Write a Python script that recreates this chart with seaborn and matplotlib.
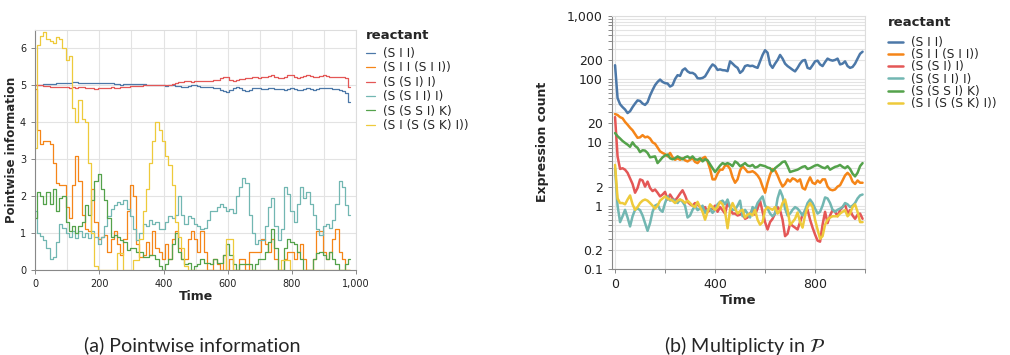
import seaborn as sns
import matplotlib
matplotlib.use('Agg')
import matplotlib.pyplot as plt
from matplotlib.ticker import FixedLocator, NullFormatter
import pandas as pd

reactants = ['(S I I)', '(S I I (S I I))', '(S (S I) I)', '(S (S I I) I)', '(S (S S I) K)', '(S I (S (S K) I))']
colors = ['#4c78a8', '#f58518', '#e45756', '#72b7b2', '#54a24b', '#eeca3b']

# (a) pointwise information, sampled every 10 time steps (0..980)
time_a = list(range(0, 990, 10))
info_sii = [5.0, 5.01, 5.02, 5.03, 5.04, 5.05, 5.05, 5.06, 5.06, 5.07,
            5.07, 5.07, 5.08, 5.08, 5.07, 5.06, 5.06, 5.07, 5.07, 5.07,
            5.07, 5.07, 5.06, 5.06, 5.06, 5.05, 5.04, 5.02, 5.03, 5.05,
            5.04, 5.03, 5.04, 5.04, 5.03, 5.02, 5.02, 5.01, 5.0, 5.0,
            5.0, 4.99, 5.0, 5.0, 4.99, 4.98, 4.97, 4.97, 4.98, 5.0,
            5.0, 4.98, 4.96, 4.96, 4.96, 4.95, 4.94, 4.92, 4.88, 4.84,
            4.83, 4.88, 4.93, 4.96, 4.93, 4.88, 4.86, 4.88, 4.92, 4.93,
            4.93, 4.91, 4.9, 4.93, 4.92, 4.9, 4.89, 4.9, 4.88, 4.9,
            4.92, 4.9, 4.88, 4.87, 4.9, 4.92, 4.9, 4.88, 4.9, 4.92,
            4.93, 4.94, 4.92, 4.9, 4.9, 4.88, 4.85, 4.8, 4.55]
info_sii_sii = [4.9, 3.8, 3.4, 3.5, 3.5, 3.4, 2.9, 2.35, 2.3, 2.3,
                1.7, 1.4, 2.3, 3.1, 2.4, 1.5, 1.1, 1.05, 2.2, 1.3,
                0.85, 0.9, 0.95, 0.5, 0.85, 1.05, 0.7, 0.4, 0.85, 1.6,
                2.3, 2.0, 0.7, 0.35, 0.4, 0.75, 0.4, 1.05, 0.6, 0.5,
                0.3, 0.7, 0.3, 0.85, 1.05, 0.6, 0.3, 0.3, 0.85, 1.05,
                0.85, 0.5, 1.05, 0.5, 0, 0, 0.3, 0.15, 0, 0.4,
                0, 0.3, 0, 0, 0.3, 0.3, 0, 0.5, 0.5, 0.5,
                0.5, 0.85, 0.7, 0.5, 0.85, 0.3, 0, 0, 0.3, 0.5,
                0.5, 0.3, 0.5, 0.7, 0.3, 0, 0, 0.3, 1.05, 1.05,
                0.5, 0.3, 0.5, 0.85, 1.1, 0.5, 0.3, 0, 0]
info_ssii = [5.0, 5.0, 5.0, 4.99, 4.98, 4.97, 4.97, 4.96, 4.95, 4.96,
             4.95, 4.94, 4.95, 4.93, 4.95, 4.96, 4.94, 4.93, 4.92, 4.91,
             4.92, 4.93, 4.92, 4.94, 4.95, 4.93, 4.94, 4.95, 4.96, 4.97,
             4.98, 4.99, 4.99, 4.99, 5.0, 5.0, 5.01, 5.01, 5.01, 5.0,
             5.0, 5.02, 5.01, 5.03, 5.06, 5.09, 5.1, 5.12, 5.12, 5.1,
             5.12, 5.12, 5.12, 5.13, 5.12, 5.13, 5.14, 5.16, 5.2, 5.24,
             5.22, 5.16, 5.13, 5.15, 5.18, 5.17, 5.19, 5.2, 5.22, 5.22,
             5.2, 5.22, 5.23, 5.25, 5.27, 5.24, 5.19, 5.2, 5.24, 5.28,
             5.27, 5.22, 5.2, 5.22, 5.25, 5.27, 5.25, 5.22, 5.24, 5.25,
             5.27, 5.26, 5.24, 5.23, 5.24, 5.24, 5.22, 5.2, 4.95]
info_s_sii_i = [1.6, 1.0, 0.92, 0.8, 0.6, 0.3, 0.35, 0.77, 1.25, 1.15,
                1.0, 0.9, 1.05, 0.86, 1.05, 0.9, 1.0, 0.86, 1.05, 0.9,
                0.7, 0.9, 1.2, 1.45, 1.65, 1.76, 1.85, 1.8, 1.9, 1.65,
                1.45, 1.1, 0.8, 1.0, 1.25, 1.2, 1.35, 1.25, 1.3, 1.1,
                1.1, 1.3, 1.45, 1.4, 1.5, 2.0, 1.5, 1.25, 1.45, 1.4,
                1.25, 1.2, 1.1, 1.15, 1.35, 1.6, 1.6, 1.7, 1.8, 1.7,
                1.6, 1.65, 1.55, 2.0, 2.25, 2.5, 2.35, 1.5, 1.0, 0.7,
                0.8, 0.8, 1.2, 1.7, 1.95, 1.2, 0.8, 1.1, 2.25, 2.05,
                1.6, 1.3, 1.8, 2.25, 1.95, 2.1, 1.8, 1.5, 1.1, 0.95,
                1.2, 1.25, 1.15, 1.35, 1.8, 2.4, 2.25, 1.75, 1.5]
info_sssik = [1.4, 2.1, 2.0, 1.8, 2.1, 1.8, 2.2, 1.6, 1.95, 2.0,
              1.3, 1.05, 1.2, 1.0, 1.2, 1.3, 1.75, 1.5, 1.9, 2.4,
              2.6, 2.2, 1.9, 1.4, 0.9, 0.95, 0.9, 0.8, 0.75, 0.55,
              0.6, 0.6, 0.5, 0.5, 0.35, 0.35, 0.4, 0.4, 0.3, 0.1,
              0, 0.15, 0.3, 0.7, 1.0, 0.5, 0.3, 0.15, 0.2, 0,
              0.1, 0.15, 0.3, 0.2, 0.2, 0.15, 0.3, 0.2, 0.2, 0.4,
              0.7, 0.4, 0.15, 0, 0.15, 0.15, 0.15, 0.15, 0, 0.15,
              0.3, 0.3, 0.5, 0.75, 1.1, 0.6, 0, 0, 0.6, 0.85,
              0.75, 0.7, 0.5, 0.3, 0, 0, 0, 0.3, 0.45, 0.5,
              0.4, 0.3, 0.5, 0.3, 0.15, 0, 0, 0.15, 0.3]
info_si_sski = [3.3, 6.1, 6.35, 6.45, 6.25, 6.2, 6.15, 6.3, 6.25, 6.0,
                5.7, 5.8, 4.4, 4.0, 4.6, 4.1, 4.0, 2.9, 1.0, 0.1,
                0, 0, 0, 0, 0, 0, 0.45, 0.45, 0, 0,
                0, 0.27, 0.27, 0.85, 1.6, 2.2, 2.9, 3.5, 4.0, 3.8,
                3.5, 3.1, 2.85, 2.3, 1.3, 0.9, 0.6, 0.1, 0, 0,
                0, 0, 0, 0, 0, 0, 0, 0, 0, 0,
                0.83, 0.83, 0, 0, 0, 0, 0, 0, 0, 0,
                0, 0, 0, 0, 0, 0, 0, 0.27, 0.27, 0.27,
                0, 0, 0, 0, 0, 0, 0, 0, 0, 0,
                0, 0, 0, 0, 0, 0, 0, 0, 0]

# (b) multiplicity, sampled every 10 time steps (0..990)
time_b = list(range(0, 1000, 10))
count_sii = [165, 50, 40, 36, 33, 29, 31, 36, 41, 46,
             45, 41, 39, 43, 55, 67, 80, 90, 98, 90,
             86, 85, 76, 80, 100, 115, 112, 138, 147, 132,
             125, 125, 118, 103, 102, 104, 110, 128, 150, 170,
             160, 139, 142, 138, 137, 133, 190, 175, 160, 150,
             125, 135, 160, 165, 160, 162, 155, 150, 190, 240,
             285, 260, 170, 150, 175, 200, 240, 210, 175, 160,
             150, 140, 132, 150, 175, 195, 200, 150, 145, 165,
             190, 195, 170, 160, 185, 210, 200, 195, 200, 210,
             170, 175, 190, 160, 150, 155, 175, 210, 250, 270]
count_sii_sii = [28, 27, 25, 24, 21, 19, 17, 15.5, 13.5, 11.8,
                 12, 13, 12, 12.3, 11.5, 10, 9.5, 8.3, 7.2, 6.8,
                 6.5, 6.0, 6.8, 5.8, 5.3, 5.6, 5.3, 5.6, 5.2, 5.0,
                 5.3, 5.6, 4.9, 4.7, 5.2, 5.6, 5.9, 5.0, 3.8, 2.6,
                 2.6, 3.2, 3.7, 3.7, 4.3, 4.3, 3.8, 2.8, 2.3, 2.6,
                 3.6, 4.2, 3.8, 3.4, 3.4, 3.5, 3.3, 3.0, 2.6, 2.0,
                 1.6, 2.3, 3.1, 3.8, 3.6, 3.0, 2.4, 2.0, 2.2, 2.6,
                 2.4, 2.7, 2.6, 2.4, 2.6, 1.9, 1.8, 2.3, 2.8, 2.3,
                 2.2, 2.5, 2.3, 2.6, 2.6, 2.0, 1.8, 1.75, 1.8, 2.0,
                 2.1, 2.5, 3.0, 3.3, 3.0, 2.4, 2.2, 2.5, 2.3, 2.3]
count_ssii = [25, 6.0, 3.8, 3.9, 3.7, 3.3, 2.7, 2.2, 1.6, 1.9,
              2.6, 2.5, 2.0, 2.4, 1.9, 1.7, 1.8, 1.6, 1.4, 1.5,
              1.65, 1.25, 1.5, 1.3, 1.2, 1.35, 1.55, 1.75, 1.45, 1.15,
              1.05, 1.0, 1.1, 1.05, 0.95, 0.85, 0.95, 0.8, 0.85, 0.9,
              1.0, 0.8, 0.95, 0.85, 0.75, 1.1, 0.95, 0.75, 0.75, 0.7,
              0.72, 0.77, 0.62, 0.65, 0.75, 0.86, 0.72, 0.9, 1.2, 0.8,
              0.55, 0.42, 0.55, 0.62, 0.75, 0.95, 0.85, 0.6, 0.33, 0.36,
              0.52, 0.48, 0.45, 0.42, 0.55, 0.72, 0.82, 0.86, 0.6, 0.45,
              0.35, 0.28, 0.27, 0.5, 0.8, 0.53, 0.7, 0.85, 0.8, 0.68,
              0.85, 0.95, 1.05, 0.75, 0.85, 0.7, 0.62, 0.72, 0.75, 0.62]
count_s_sii_i = [3.9, 1.0, 0.55, 0.68, 0.86, 0.65, 0.47, 0.68, 0.86, 0.9,
                 0.85, 0.7, 0.53, 0.4, 0.53, 0.8, 1.0, 1.05, 0.86, 0.8,
                 1.1, 1.4, 1.2, 1.25, 1.2, 1.1, 1.25, 1.15, 1.0, 0.65,
                 0.7, 0.86, 1.0, 0.85, 0.9, 1.0, 0.77, 0.86, 0.9, 0.77,
                 0.86, 1.05, 1.15, 1.2, 1.05, 1.25, 0.95, 0.86, 0.86, 1.0,
                 1.2, 0.68, 0.86, 0.75, 0.65, 0.95, 0.86, 1.1, 1.25, 1.4,
                 1.0, 0.9, 0.75, 0.68, 0.75, 1.3, 1.75, 1.4, 0.9, 0.7,
                 0.75, 0.86, 0.95, 0.9, 0.8, 0.7, 0.85, 1.1, 1.25, 1.1,
                 0.9, 0.75, 0.8, 1.0, 1.35, 1.3, 1.1, 0.86, 0.8, 0.86,
                 0.9, 0.95, 1.1, 1.05, 0.95, 1.0, 1.1, 1.3, 1.45, 1.5]
count_sssik = [14, 12.5, 11.5, 10.5, 9.8, 9.2, 8.5, 10, 8.8, 8.2,
               7.0, 7.5, 7.4, 6.8, 5.8, 5.9, 6.0, 4.7, 5.2, 5.8,
               6.2, 6.4, 5.6, 5.4, 5.6, 6.0, 5.7, 5.4, 5.8, 6.0,
               5.6, 6.0, 5.4, 5.3, 5.6, 5.0, 5.4, 5.2, 4.5, 3.9,
               3.4, 3.8, 4.3, 4.7, 4.5, 4.7, 4.5, 4.2, 5.0, 4.7,
               4.2, 4.4, 4.7, 4.3, 4.2, 4.4, 4.0, 4.1, 4.4, 4.3,
               4.2, 4.0, 3.9, 3.5, 3.9, 4.2, 4.5, 4.9, 5.0, 4.2,
               3.4, 3.5, 3.6, 3.7, 3.9, 4.1, 4.2, 3.8, 3.9, 4.1,
               4.3, 4.4, 4.2, 4.0, 3.9, 4.2, 3.7, 3.9, 4.1, 4.2,
               4.4, 4.1, 3.9, 4.2, 3.8, 3.2, 2.9, 3.3, 4.2, 4.7]
count_si_sski = [4.4, 1.3, 1.1, 1.1, 1.05, 1.25, 1.45, 1.05, 0.86, 0.95,
                 1.1, 1.2, 1.25, 1.2, 1.1, 1.0, 0.9, 1.0, 1.2, 1.3,
                 1.4, 1.3, 1.25, 1.2, 1.1, 1.2, 1.25, 1.2, 1.1, 1.2,
                 1.1, 1.0, 0.95, 1.15, 0.95, 0.8, 0.6, 0.8, 1.05, 0.95,
                 0.86, 0.95, 1.15, 1.05, 0.8, 0.44, 0.85, 1.1, 0.9, 0.75,
                 0.82, 0.86, 0.65, 0.72, 0.75, 0.7, 0.86, 0.6, 0.5, 0.55,
                 0.85, 0.95, 0.9, 0.86, 0.95, 0.75, 0.85, 1.1, 1.25, 0.86,
                 0.5, 0.55, 0.62, 0.78, 0.55, 0.45, 0.7, 0.95, 1.1, 0.95,
                 0.6, 0.42, 0.3, 0.33, 0.5, 0.6, 0.65, 0.68, 0.68, 0.68,
                 0.75, 0.8, 0.85, 0.68, 0.75, 0.95, 1.05, 0.8, 0.55, 0.55]

info_series = [info_sii, info_sii_sii, info_ssii, info_s_sii_i, info_sssik, info_si_sski]
count_series = [count_sii, count_sii_sii, count_ssii, count_s_sii_i, count_sssik, count_si_sski]

df_a = pd.concat([pd.DataFrame({'Time': time_a, 'value': v, 'reactant': r})
                  for r, v in zip(reactants, info_series)], ignore_index=True)
df_b = pd.concat([pd.DataFrame({'Time': time_b, 'value': v, 'reactant': r})
                  for r, v in zip(reactants, count_series)], ignore_index=True)
palette = dict(zip(reactants, colors))

sns.set_theme(style='white')
plt.rcParams['font.family'] = ['DejaVu Sans']

fig = plt.figure(figsize=(10.1, 3.55), dpi=100)
ax1 = fig.add_axes([0.0347, 0.2394, 0.318, 0.676])
ax2 = fig.add_axes([0.606, 0.2423, 0.2505, 0.7135])

grid_c = '#e3e3e3'

def style_axes(ax, labelsize):
    for side in ['top', 'right']:
        ax.spines[side].set_color('#dddddd')
        ax.spines[side].set_linewidth(0.8)
    for side in ['left', 'bottom']:
        ax.spines[side].set_color('#888888')
        ax.spines[side].set_linewidth(0.8)
    ax.tick_params(which='both', colors='#888888', labelcolor='#222222',
                   labelsize=labelsize, length=3, width=0.7, direction='out',
                   left=True, bottom=True)
    ax.set_axisbelow(True)

# left panel: pointwise information
sns.lineplot(data=df_a, x='Time', y='value', hue='reactant', hue_order=reactants,
             palette=palette, linewidth=0.9, drawstyle='steps-mid', ax=ax1)
ax1.set_xlim(0, 1000)
ax1.set_ylim(0, 6.5)
ax1.set_xticks([0, 200, 400, 600, 800, 1000])
ax1.set_xticklabels(['0', '200', '400', '600', '800', '1,000'])
ax1.xaxis.set_minor_locator(FixedLocator([100, 300, 500, 700, 900]))
ax1.set_yticks([0, 1, 2, 3, 4, 5, 6])
ax1.grid(True, which='both', axis='x', color=grid_c, linewidth=0.8)
ax1.grid(True, which='major', axis='y', color=grid_c, linewidth=0.8)
style_axes(ax1, 7)
ax1.tick_params(which='minor', length=0)
ax1.set_xlabel('Time', fontsize=9, fontweight='bold', labelpad=1)
ax1.set_ylabel('Pointwise information', fontsize=8.5, fontweight='bold', labelpad=1.5)
h, l = ax1.get_legend_handles_labels()
ax1.legend(h, l, loc='upper left', bbox_to_anchor=(0.362, 0.868),
           bbox_transform=fig.transFigure, frameon=False, fontsize=8.7,
           handlelength=0.8, handletextpad=0.6, labelspacing=0.12,
           borderaxespad=0, borderpad=0)
fig.text(0.362, 0.899, 'reactant', fontsize=9.5, fontweight='bold', ha='left', va='center')

# right panel: multiplicity
sns.lineplot(data=df_b, x='Time', y='value', hue='reactant', hue_order=reactants,
             palette=palette, linewidth=1.8, ax=ax2)
ax2.set_yscale('log')
ax2.set_ylim(0.1, 1000)
ax2.set_xlim(-12, 1000)
major_y = [0.1, 0.2, 1, 2, 10, 20, 100, 200, 1000]
ax2.yaxis.set_major_locator(FixedLocator(major_y))
ax2.set_yticklabels(['0.1', '0.2', '1', '2', '10', '20', '100', '200', '1,000'])
minor_y = [m * d for d in [0.1, 1, 10, 100] for m in range(3, 10)]
ax2.yaxis.set_minor_locator(FixedLocator(minor_y))
ax2.yaxis.set_minor_formatter(NullFormatter())
ax2.set_xticks([0, 200, 400, 600, 800, 1000])
ax2.set_xticklabels(['0', '', '400', '', '800', ''])
ax2.grid(True, which='both', axis='y', color=grid_c, linewidth=0.8)
ax2.grid(True, which='major', axis='x', color=grid_c, linewidth=0.8)
style_axes(ax2, 9)
ax2.set_xlabel('Time', fontsize=9.5, fontweight='bold', labelpad=2)
ax2.set_ylabel('Expression count', fontsize=9, fontweight='bold', labelpad=13)
h, l = ax2.get_legend_handles_labels()
leg2 = ax2.legend(h, l, loc='upper left', bbox_to_anchor=(0.879, 0.899),
                  bbox_transform=fig.transFigure, frameon=False, fontsize=8.7,
                  handlelength=1.3, handletextpad=0.6, labelspacing=-0.06,
                  borderaxespad=0, borderpad=0)
for line in leg2.get_lines():
    line.set_linewidth(1.8)
fig.text(0.879, 0.938, 'reactant', fontsize=9.5, fontweight='bold', ha='left', va='center')

fig.text(0.19, 0.028, '(a) Pointwise information', ha='center', va='center',
         fontsize=14.2, family=['Lato', 'DejaVu Sans'])
fig.text(0.7376, 0.028, r'(b) Multiplicty in $\mathcal{P}$', ha='center', va='center',
         fontsize=14.2, family=['Lato', 'DejaVu Sans'])

plt.savefig('out.png', dpi=100)
plt.close()
